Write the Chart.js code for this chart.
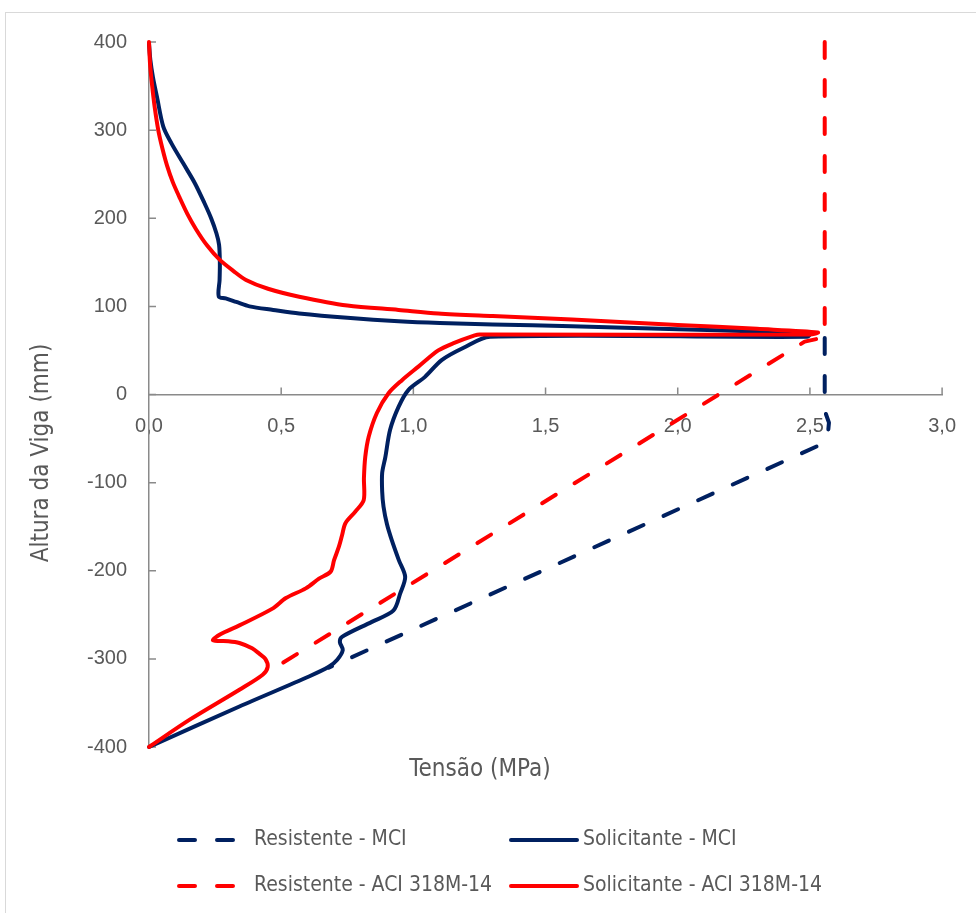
<!DOCTYPE html>
<html>
<head>
<meta charset="utf-8">
<script src="https://cdn.jsdelivr.net/npm/chart.js@4.4.1/dist/chart.umd.min.js"></script>
<style>
  html, body { margin: 0; padding: 0; background: #fff; overflow: hidden; }
  #wrap { position: relative; width: 976px; height: 913px; }
  #frame { position: absolute; left: 5px; top: 12px; width: 1000px; height: 1000px; border: 1px solid #d9d9d9; box-sizing: border-box; }
  canvas { position: absolute; left: 0; top: 0; }
</style>
</head>
<body>
<div id="wrap">
  <div id="frame"></div>
  <canvas id="chart" width="976" height="913"></canvas>
</div>
<script>
// series names, in legend order
const seriesLabels = ['Resistente - MCI', 'Solicitante - MCI', 'Resistente - ACI 318M-14', 'Solicitante - ACI 318M-14'];

// x = tensão (MPa), y = altura da viga (mm)
const resMciX = [2.556, 2.556, 2.558, 2.572, 2.568, 2.540, 0.680];
const resMciY = [64, 0, -20, -32, -45, -57, -310];

const solMciX = [0.000, 0.005, 0.015, 0.030, 0.054, 0.085, 0.130, 0.173, 0.210, 0.235,
                 0.255, 0.265, 0.268, 0.267, 0.264, 0.290, 0.330, 0.380, 0.470, 0.568,
                 0.750, 0.944, 1.100, 1.300, 1.600, 2.000, 2.300, 2.500, 2.490, 1.290,
                 1.190, 1.107, 1.044, 0.981, 0.944, 0.912, 0.894, 0.882, 0.882, 0.887,
                 0.900, 0.918, 0.945, 0.969, 0.950, 0.925, 0.843, 0.730, 0.722, 0.733,
                 0.712, 0.680, 0.605, 0.342, 0.000];
const solMciY = [398, 380, 360, 338, 304, 285, 262, 240, 217, 200,
                 183, 170, 150, 130, 111, 109, 105, 100, 96, 92,
                 87, 83, 81, 79.5, 77.5, 74, 71.5, 69, 65.5, 65.5,
                 53, 39, 20, 5, -14, -40, -71, -89, -110, -127,
                 -147, -165, -188, -207, -226, -245, -258, -275, -281, -290,
                 -301, -309, -320, -354, -400];

const resAciX = [2.556, 2.556, 2.480, 0.460];
const resAciY = [400, 65, 60, -313];

const solAciX = [0.000, 0.004, 0.012, 0.022, 0.035, 0.050, 0.068, 0.090, 0.115, 0.145,
                 0.179, 0.220, 0.267, 0.320, 0.367, 0.450, 0.568, 0.750, 0.944, 1.094,
                 1.300, 1.600, 2.000, 2.300, 2.530, 2.500, 1.250, 1.232, 1.150, 1.094,
                 1.019, 0.956, 0.906, 0.862, 0.831, 0.818, 0.813, 0.812, 0.780, 0.743,
                 0.730, 0.718, 0.700, 0.687, 0.643, 0.593, 0.518, 0.467, 0.342, 0.270,
                 0.242, 0.300, 0.342, 0.390, 0.417, 0.440, 0.449, 0.430, 0.342, 0.154,
                 0.000];
const solAciY = [400, 375, 350, 325, 300, 280, 260, 241, 224, 205,
                 187, 169, 153, 140, 130, 120, 111, 101, 96, 92,
                 89, 85, 79, 74.5, 70.5, 68, 68, 67, 58, 50,
                 31.6, 16, 1.4, -21, -48, -71, -95, -120, -133, -146,
                 -160, -173, -188, -201, -209, -220, -231, -243, -262, -272,
                 -279, -280, -282, -288, -294, -300, -309, -318, -335, -369,
                 -400];

const xTickValues = [0, 0.5, 1, 1.5, 2, 2.5, 3];
const xTickLabels = ['0,0', '0,5', '1,0', '1,5', '2,0', '2,5', '3,0'];
const yTickValues = [-400, -300, -200, -100, 0, 100, 200, 300, 400];
const yTickLabels = ['-400', '-300', '-200', '-100', '0', '100', '200', '300', '400'];

const xTitle = 'Tensão (MPa)';
const yTitle = 'Altura da Viga (mm)';

const NAVY = '#002060';
const RED = '#ff0000';
const AXIS = '#8a8a8a';
const TEXT = '#595959';
const TICK_FONT = "'Liberation Sans', Arial, sans-serif";
const TEXT_FONT = "'Liberation Sans Narrow', 'DejaVu Sans Condensed', sans-serif";
const DASH = [16, 22];

const toPoints = (xs, ys) => xs.map((x, i) => ({ x: x, y: ys[i] }));

// small tick marks that point into the plot, like the original
const inwardTicks = {
  id: 'inwardTicks',
  beforeDatasetsDraw(chart) {
    const { ctx, scales: { x, y } } = chart;
    const x0 = x.getPixelForValue(0);
    const y0 = y.getPixelForValue(0);
    ctx.save();
    ctx.strokeStyle = AXIS;
    ctx.lineWidth = 1.5;
    ctx.beginPath();
    xTickValues.forEach(v => {
      if (v === 0) return;
      const px = x.getPixelForValue(v);
      ctx.moveTo(px, y0);
      ctx.lineTo(px, y0 - 7);
    });
    yTickValues.forEach(v => {
      const py = y.getPixelForValue(v);
      ctx.moveTo(x0, py);
      ctx.lineTo(x0 + 7, py);
    });
    ctx.stroke();
    ctx.restore();
  }
};

// axis titles and the two-column legend
const titlesAndLegend = {
  id: 'titlesAndLegend',
  afterDraw(chart) {
    const ctx = chart.ctx;
    ctx.save();
    ctx.fillStyle = TEXT;
    ctx.textBaseline = 'middle';
    ctx.textAlign = 'center';
    ctx.font = '24px ' + TEXT_FONT;
    ctx.fillText(xTitle, 480, 770);
    ctx.save();
    ctx.translate(42, 453);
    ctx.rotate(-Math.PI / 2);
    ctx.fillText(yTitle, 0, 0);
    ctx.restore();

    ctx.font = '21px ' + TEXT_FONT;
    ctx.textAlign = 'left';
    chart.data.datasets.forEach((ds, i) => {
      const col = i % 2;
      const row = Math.floor(i / 2);
      const sx = col ? 511 : 179;
      const sy = row ? 886 : 840;
      const len = col ? 66 : 54;
      ctx.strokeStyle = ds.borderColor;
      ctx.lineWidth = 4;
      ctx.lineCap = 'round';
      ctx.setLineDash(ds.borderDash || []);
      ctx.beginPath();
      ctx.moveTo(sx, sy);
      ctx.lineTo(sx + len, sy);
      ctx.stroke();
      ctx.setLineDash([]);
      ctx.fillText(ds.label, col ? 583 : 254, sy);
    });
    ctx.restore();
  }
};

const lineStyle = { showLine: true, pointRadius: 0, borderWidth: 4, fill: false,
                    borderCapStyle: 'round', borderJoinStyle: 'round', clip: false };

new Chart(document.getElementById('chart'), {
  type: 'scatter',
  data: {
    datasets: [
      { ...lineStyle, label: seriesLabels[0], data: toPoints(resMciX, resMciY), borderColor: NAVY, borderDash: DASH, tension: 0, order: 3 },
      { ...lineStyle, label: seriesLabels[1], data: toPoints(solMciX, solMciY), borderColor: NAVY, tension: 0.3, order: 2 },
      { ...lineStyle, label: seriesLabels[2], data: toPoints(resAciX, resAciY), borderColor: RED, borderDash: DASH, tension: 0, order: 1 },
      { ...lineStyle, label: seriesLabels[3], data: toPoints(solAciX, solAciY), borderColor: RED, tension: 0.3, order: 0 }
    ]
  },
  options: {
    responsive: false,
    animation: false,
    layout: { padding: { left: 0, top: 42, right: 29, bottom: 166 } },
    plugins: { legend: { display: false }, tooltip: { enabled: false } },
    scales: {
      x: {
        type: 'linear',
        position: { y: 0 },
        min: 0,
        max: 3,
        grid: { display: false, drawTicks: false },
        border: { color: AXIS, width: 1.5 },
        afterBuildTicks: s => { s.ticks = xTickValues.map(v => ({ value: v })); },
        ticks: { callback: (v, i) => xTickLabels[i], padding: 20, color: TEXT, font: { family: TICK_FONT, size: 20 } }
      },
      y: {
        type: 'linear',
        position: 'left',
        min: -400,
        max: 400,
        grid: { display: false, drawTicks: false },
        border: { color: AXIS, width: 1.5 },
        afterBuildTicks: s => { s.ticks = yTickValues.map(v => ({ value: v })); },
        afterFit: s => { s.width = 149; },
        ticks: { callback: (v, i) => yTickLabels[i], padding: 22, color: TEXT, font: { family: TICK_FONT, size: 20 } }
      }
    }
  },
  plugins: [inwardTicks, titlesAndLegend]
});
</script>
</body>
</html>
